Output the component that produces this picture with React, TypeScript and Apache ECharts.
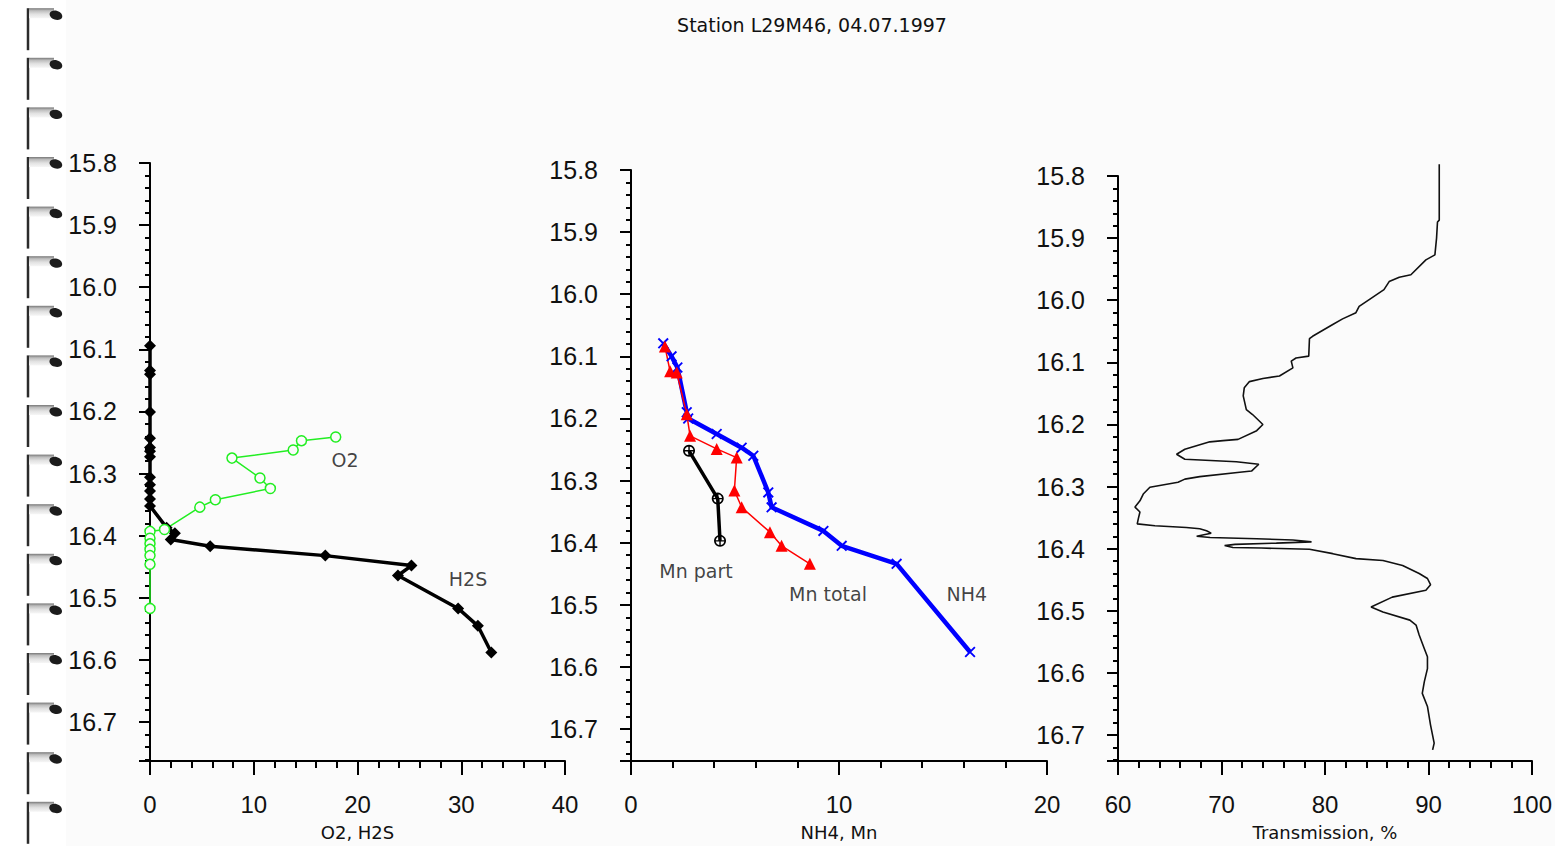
import React, { useEffect, useRef } from "react";
import * as echarts from "echarts";

const TITLE = "Station L29M46, 04.07.1997";

// [value, depth]
const H2S: number[][] = [
  [0, 16.094], [0, 16.134], [0, 16.14], [0, 16.201], [0, 16.243], [0, 16.258], [0, 16.264], [0, 16.273],
  [0, 16.306], [0, 16.318], [0, 16.328], [0, 16.341], [0, 16.352], [1.6, 16.387], [2.4, 16.396],
  [2.0, 16.406], [5.8, 16.417], [16.9, 16.432], [25.2, 16.448], [23.9, 16.464], [29.7, 16.517],
  [31.6, 16.545], [32.9, 16.588],
];
const O2: number[][] = [
  [17.9, 16.241], [14.6, 16.247], [13.8, 16.262], [7.9, 16.275], [10.6, 16.307], [11.6, 16.324],
  [6.3, 16.342], [4.8, 16.354], [1.4, 16.39], [0, 16.393], [0, 16.404], [0, 16.413], [0, 16.422],
  [0, 16.432], [0, 16.446], [0, 16.517],
];
const NH4: number[][] = [
  [1.55, 16.079], [1.95, 16.1], [2.23, 16.118], [2.68, 16.19], [2.75, 16.2], [4.12, 16.225],
  [5.32, 16.247], [5.88, 16.26], [6.6, 16.319], [6.76, 16.343], [9.25, 16.381], [10.13, 16.405],
  [12.77, 16.434], [16.3, 16.576],
];
const MN_TOTAL: number[][] = [
  [1.63, 16.084], [1.88, 16.124], [2.2, 16.126], [2.68, 16.193], [2.84, 16.228], [4.12, 16.249],
  [5.08, 16.263], [4.97, 16.316], [5.32, 16.343], [6.68, 16.383], [7.24, 16.405], [8.6, 16.434],
];
const MN_PART: number[][] = [
  [2.79, 16.252], [4.17, 16.329], [4.28, 16.397],
];
const TRANSMISSION: number[][] = [
  [91.04, 15.781], [91.04, 15.871], [90.87, 15.874], [90.78, 15.9], [90.62, 15.927], [89.75, 15.935],
  [88.3, 15.959], [87.18, 15.963], [86.2, 15.97], [85.7, 15.983], [84.45, 15.997], [83.3, 16.01],
  [82.99, 16.02], [81.7, 16.03], [80.75, 16.039], [78.8, 16.058], [78.5, 16.062], [78.43, 16.09],
  [77.2, 16.093], [76.74, 16.098], [76.9, 16.109], [75.6, 16.122], [74.0, 16.126], [72.7, 16.131],
  [72.2, 16.141], [72.1, 16.154], [72.4, 16.176], [73.0, 16.184], [74.0, 16.2], [73.4, 16.21],
  [71.6, 16.224], [70.15, 16.226], [68.87, 16.228], [67.26, 16.236], [66.46, 16.24], [65.66, 16.248],
  [66.46, 16.256], [71.44, 16.26], [73.6, 16.264], [72.9, 16.275], [71.76, 16.277], [67.9, 16.284],
  [66.46, 16.288], [65.8, 16.293], [63.08, 16.301], [62.44, 16.312], [62.12, 16.323], [61.64, 16.333],
  [62.12, 16.341], [61.96, 16.352], [61.86, 16.36], [63.57, 16.363], [66.6, 16.366], [67.9, 16.368],
  [68.55, 16.371], [69.0, 16.375], [67.6, 16.38], [68.9, 16.382], [73.4, 16.384], [76.9, 16.386],
  [78.7, 16.389], [75.3, 16.391], [71.3, 16.393], [70.3, 16.395], [71.1, 16.398], [73.85, 16.399],
  [78.5, 16.401], [80.75, 16.408], [83.0, 16.416], [85.6, 16.419], [87.5, 16.427], [89.1, 16.44],
  [89.9, 16.448], [90.2, 16.458], [89.75, 16.467], [86.5, 16.478], [84.45, 16.494], [85.6, 16.502],
  [88.2, 16.515], [88.8, 16.523], [89.1, 16.539], [89.6, 16.561], [89.9, 16.574], [89.9, 16.593],
  [89.6, 16.614], [89.4, 16.633], [89.9, 16.654], [90.2, 16.684], [90.55, 16.713], [90.4, 16.724],
];

// series name annotations
const LABEL_NAMES = ["O2", "H2S", "Mn part", "Mn total", "NH4"];
const LABEL_PANEL = [0, 0, 1, 1, 1];
const LABEL_POS: number[][] = [[18.8, 16.278], [30.65, 16.469], [3.125, 16.445], [9.47, 16.483], [16.15, 16.483]];

const X_NAMES = ["O2, H2S", "NH4, Mn", "Transmission, %"];
const X_MIN = [0, 0, 60];
const X_MAX = [40, 20, 100];
const Y_MIN = 15.8;
const Y_MAX = [16.7626, 16.7514, 16.7418];

const GRIDS = [
  { left: 150, top: 163, width: 415, height: 600 },
  { left: 631, top: 170, width: 416, height: 593 },
  { left: 1118, top: 176, width: 415, height: 587 },
];

const SANS = "'Liberation Sans', Arial, sans-serif";
const DEJAVU = "'DejaVu Sans', sans-serif";

const X_SYM = "path://M0,1.2L1.2,0L10,8.8L8.8,10Z M8.8,0L10,1.2L1.2,10L0,8.8Z";
const OPLUS_SYM =
  "path://M5,0A5,5 0 1,1 4.99,0Z M5,1.4A3.6,3.6 0 1,0 5.01,1.4Z M4.4,0.5L5.6,0.5L5.6,9.5L4.4,9.5Z M0.5,4.4L9.5,4.4L9.5,5.6L0.5,5.6Z";

export default function App() {
  const ref = useRef<HTMLDivElement>(null);
  useEffect(() => {
    if (!ref.current) return;
    const chart = echarts.init(ref.current, undefined, { renderer: "svg" });

    const axisCol = "#000";
    const xAxis = GRIDS.map((_, i) => ({
      type: "value",
      gridIndex: i,
      min: X_MIN[i],
      max: X_MAX[i],
      interval: 10,
      name: X_NAMES[i],
      nameLocation: "middle",
      nameGap: 62,
      nameTextStyle: { fontSize: 18, fontFamily: DEJAVU, color: "#111" },
      axisLine: { show: true, onZero: false, lineStyle: { color: axisCol, width: 2 } },
      axisTick: { show: true, length: 14, lineStyle: { color: axisCol, width: 2 } },
      minorTick: { show: true, splitNumber: 5, length: 7, lineStyle: { color: axisCol, width: 2 } },
      splitLine: { show: false },
      axisLabel: { margin: 31, fontSize: 24, fontFamily: SANS, color: "#111" },
    }));
    const yAxis = GRIDS.map((_, i) => ({
      type: "value",
      gridIndex: i,
      inverse: true,
      min: Y_MIN,
      max: Y_MAX[i],
      interval: 0.1,
      axisLine: { show: true, onZero: false, lineStyle: { color: axisCol, width: 2 } },
      axisTick: { show: true, length: 11, lineStyle: { color: axisCol, width: 2 } },
      minorTick: { show: true, splitNumber: 5, length: 5, lineStyle: { color: axisCol, width: 2 } },
      splitLine: { show: false },
      axisLabel: {
        margin: 33,
        fontSize: 25,
        fontFamily: SANS,
        color: "#111",
        showMaxLabel: false,
        formatter: (v: number) => v.toFixed(1),
      },
    }));

    // spiral binding hooks
    const hooks: any[] = [];
    for (let k = 0; k < 17; k++) {
      const y = 8.2 + 49.6 * k;
      hooks.push({
        type: "line",
        shape: { x1: 28, y1: y, x2: 28, y2: y + 42 },
        style: { stroke: "#2b2b2b", lineWidth: 2.5 },
      });
      hooks.push({
        type: "rect",
        shape: { x: 29, y: y, width: 25, height: 10 },
        style: {
          fill: new echarts.graphic.LinearGradient(0, 0, 0, 1, [
            { offset: 0, color: "#777777" },
            { offset: 0.25, color: "#bdbdbd" },
            { offset: 0.6, color: "#e2e2e2" },
            { offset: 1, color: "#f6f6f6" },
          ]),
        },
      });
      hooks.push({
        type: "ellipse",
        shape: { cx: 56, cy: y + 7, rx: 6.5, ry: 4.5 },
        rotation: -0.3,
        originX: 56,
        originY: y + 7,
        style: { fill: "#1c1c1c" },
      });
    }

    const series: any[] = [
      {
        type: "line", name: "H2S", xAxisIndex: 0, yAxisIndex: 0, data: H2S,
        lineStyle: { color: "#000", width: 3.5 }, itemStyle: { color: "#000" },
        symbol: "diamond", symbolSize: 12, showAllSymbol: true,
      },
      {
        type: "line", name: "O2", xAxisIndex: 0, yAxisIndex: 0, data: O2,
        lineStyle: { color: "#22ee22", width: 1.5 },
        itemStyle: { color: "#fbfbfb", borderColor: "#22ee22", borderWidth: 1.5 },
        symbol: "circle", symbolSize: 10, showAllSymbol: true,
      },
      {
        type: "line", name: "NH4", xAxisIndex: 1, yAxisIndex: 1, data: NH4,
        lineStyle: { color: "#0000ff", width: 4.5 }, itemStyle: { color: "#0000ff" },
        symbol: X_SYM, symbolSize: 11, showAllSymbol: true,
      },
      {
        type: "line", name: "Mn total", xAxisIndex: 1, yAxisIndex: 1, data: MN_TOTAL,
        lineStyle: { color: "#ff0000", width: 1.5 }, itemStyle: { color: "#ff0000" },
        symbol: "triangle", symbolSize: 12, showAllSymbol: true,
      },
      {
        type: "line", name: "Mn part", xAxisIndex: 1, yAxisIndex: 1, data: MN_PART,
        lineStyle: { color: "#000", width: 3.5 }, itemStyle: { color: "#000" },
        symbol: OPLUS_SYM, symbolSize: 12, showAllSymbol: true,
      },
      {
        type: "line", name: "Transmission", xAxisIndex: 2, yAxisIndex: 2, data: TRANSMISSION,
        lineStyle: { color: "#111", width: 1.6 }, symbol: "none", clip: false,
      },
    ];
    LABEL_NAMES.forEach((nm, i) => {
      series.push({
        type: "scatter",
        xAxisIndex: LABEL_PANEL[i],
        yAxisIndex: LABEL_PANEL[i],
        symbolSize: 1,
        itemStyle: { color: "rgba(0,0,0,0)" },
        silent: true,
        data: [{ value: LABEL_POS[i], name: nm }],
        label: {
          show: true,
          position: "inside",
          formatter: "{b}",
          fontSize: 19,
          fontFamily: DEJAVU,
          color: "#111",
        },
      });
    });

    chart.setOption({
      animation: false,
      backgroundColor: "transparent",
      grid: GRIDS.map((g) => ({ ...g, containLabel: false })),
      xAxis,
      yAxis,
      series,
      graphic: [
        ...hooks,
        {
          type: "text",
          x: 812,
          y: 25,
          style: {
            text: TITLE,
            align: "center",
            verticalAlign: "middle",
            fontSize: 19,
            fontFamily: DEJAVU,
            fill: "#111",
          },
        },
      ],
    });
    return () => chart.dispose();
  }, []);

  return (
    <div
      ref={ref}
      style={{
        position: "fixed",
        left: 0,
        top: 0,
        width: 1555,
        height: 846,
        background: "linear-gradient(to right, #ffffff 66px, #fbfbfb 66px)",
      }}
    />
  );
}
